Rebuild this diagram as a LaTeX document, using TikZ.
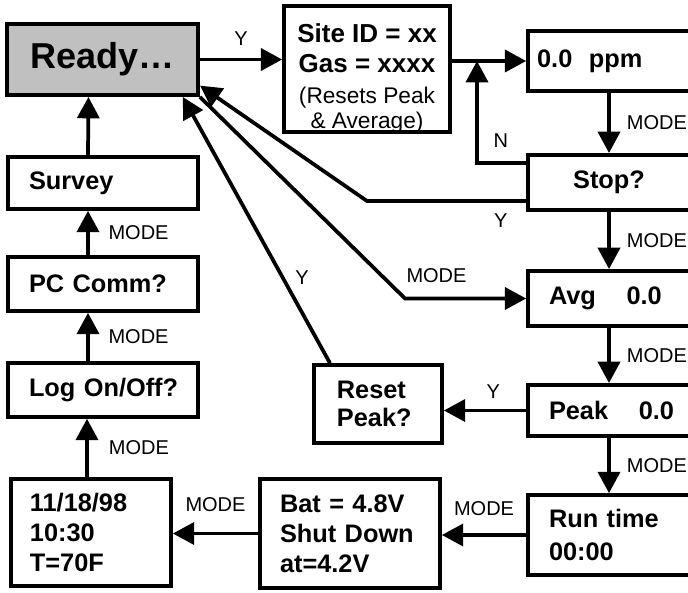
\documentclass[tikz,border=0pt]{standalone}
\usepackage{fontspec}
\setmainfont{Liberation Sans}
\usetikzlibrary{arrows.meta, positioning}
\definecolor{readygray}{RGB}{192,192,192}
\newcommand{\boxfont}{\fontsize{19}{22.5}\selectfont\bfseries}
\newcommand{\lblfont}{\fontsize{15}{18}\selectfont}
\newcommand{\notefont}{\mdseries\fontsize{17}{19}\selectfont}
\tikzset{
  flowbox/.style={draw, line width=3.2pt, inner sep=0pt, font=\boxfont},
  padbox/.style 2 args={flowbox, align=left, inner xsep=#1, text width=#2},
  modearrow/.style={-{Triangle[length=16pt, width=16.5pt]}, line width=2.8pt},
  modelbl/.style={font=\lblfont, inner sep=0pt},
}

\begin{document}
\begin{tikzpicture}[x=0.75pt, y=-0.75pt]
  \useasboundingbox (0,0) rectangle (688,592);
  \clip (0,0) rectangle (688,592);

  % top row
  \node[flowbox, fill=readygray, minimum width=143pt, minimum height=53pt,
        font=\fontsize{27}{30}\selectfont\bfseries] (ready) at (102.5,59.5) {Ready…};
  \node[flowbox, minimum width=124pt, minimum height=94pt] (site) at (367,69) {};
  \node[align=center, inner sep=0pt, font=\fontsize{19.5}{22.5}\selectfont\bfseries] (sitetext)
        at ([yshift=-7pt]site.center)
        {Site ID = xx\\[0.5pt]Gas = xxxx\\[0.5pt]{\notefont (Resets Peak}\\[-3.5pt]{\notefont \& Average)}};

  % right column
  \node[padbox={6.6pt}{107.8pt}, minimum height=44.6pt] (ppm) at (609,61) {0.0\hspace{12.5pt}ppm};
  \node[flowbox, minimum width=121pt, minimum height=41pt] (stop) at (609,182.5) {Stop?};
  \node[padbox={15.5pt}{90pt}, minimum height=41pt] (avg) at (609,298.5) {Avg\hspace{23pt}\rlap{0.0}};
  \node[padbox={15.5pt}{90pt}, minimum height=38pt] (peak) at (609,410.5) {Peak\hspace{23pt}\rlap{0.0}};
  \node[padbox={15.5pt}{90pt}, minimum height=59.6pt] (run) at (609,535) {Run time\\[2pt]00:00};

  % middle
  \node[padbox={17pt}{61.6pt}, minimum height=58pt] (reset) at (378,404) {Reset\\[-1pt]Peak?};
  \node[padbox={14.8pt}{105pt}, minimum height=81.4pt] (bat) at (350,533.5) {Bat = 4.8V\\Shut Down\\at=4.2V};

  % left column
  \node[padbox={14pt}{91.6pt}, minimum height=80pt] (date) at (91,532.5) {11/18/98\\10:30\\T=70F};
  \node[padbox={15.5pt}{111pt}, minimum height=40pt] (log) at (103,390) {\mbox{Log On/Off?}};
  \node[padbox={15.5pt}{111pt}, minimum height=40pt] (pc) at (103,284) {PC Comm?};
  \node[padbox={15.5pt}{111pt}, minimum height=38.6pt] (survey) at (103,183) {Survey};

  \coordinate (modebend) at (405,298.5);
  \coordinate (stopbend) at (367,201);
  \coordinate (nbend) at (477,163);

  % connectors
  \draw[modearrow] (ready.east) -- node[modelbl, above=9pt] (ysite) {Y} (ready.east -| site.west);
  \draw[modearrow] (site.east |- ppm.west) -- (ppm.west);
  \draw[modearrow] (stop.west |- nbend) -- (nbend) node[modelbl, above right=10pt and 11pt] (nlbl) {N}
        -- (nbend |- ppm.west);
  \draw[modearrow] (stop.west |- stopbend) -- node[modelbl, pos=0.16, below=8pt] (ystop) {Y}
        (stopbend) -- (ready.-15);
  \draw[modearrow] ([xshift=-36pt]reset.north) -- node[modelbl, pos=0.32, right=8pt] (yreset) {Y} (ready.-25);
  \draw[modearrow] (ready.south east) -- (modebend) -- node[modelbl, pos=0.26, above=10.5pt] (modeavg) {MODE} (avg.west);

  \draw[modearrow] (ppm) -- node[modelbl, right=12pt] (modestop) {MODE} (stop);
  \draw[modearrow] (stop) -- node[modelbl, right=12pt] (modeavg2) {MODE} (avg);
  \draw[modearrow] (avg) -- node[modelbl, right=12pt] (modepeak) {MODE} (peak);
  \draw[modearrow] (peak) -- node[modelbl, right=12pt] (moderun) {MODE} (run);

  \draw[modearrow] (peak.west) -- node[modelbl, pos=0.4, above=7.5pt] (ypeak) {Y} (peak.west -| reset.east);
  \draw[modearrow] (run.west) -- node[modelbl, above=13pt] (modebat) {MODE} (run.west -| bat.east);
  \draw[modearrow] (bat.west) -- node[modelbl, above=15pt] (modedate) {MODE} (bat.west -| date.east);

  \draw[modearrow] ([xshift=-3pt]date.north) -- node[modelbl, right=15pt] (modelog) {MODE}
        ([xshift=-3pt]date.north |- log.south);
  \draw[modearrow] ([xshift=-11.25pt]log.north) -- node[modelbl, right=14pt] (modepc) {MODE}
        ([xshift=-11.25pt]pc.south);
  \draw[modearrow] ([xshift=-11.25pt]pc.north) -- node[modelbl, right=14pt] (modesurvey) {MODE}
        ([xshift=-11.25pt]survey.south);
  \draw[modearrow] ([xshift=-11.25pt]survey.north) -- ([xshift=-10.9pt]survey.north |- ready.south);
\end{tikzpicture}
\end{document}
